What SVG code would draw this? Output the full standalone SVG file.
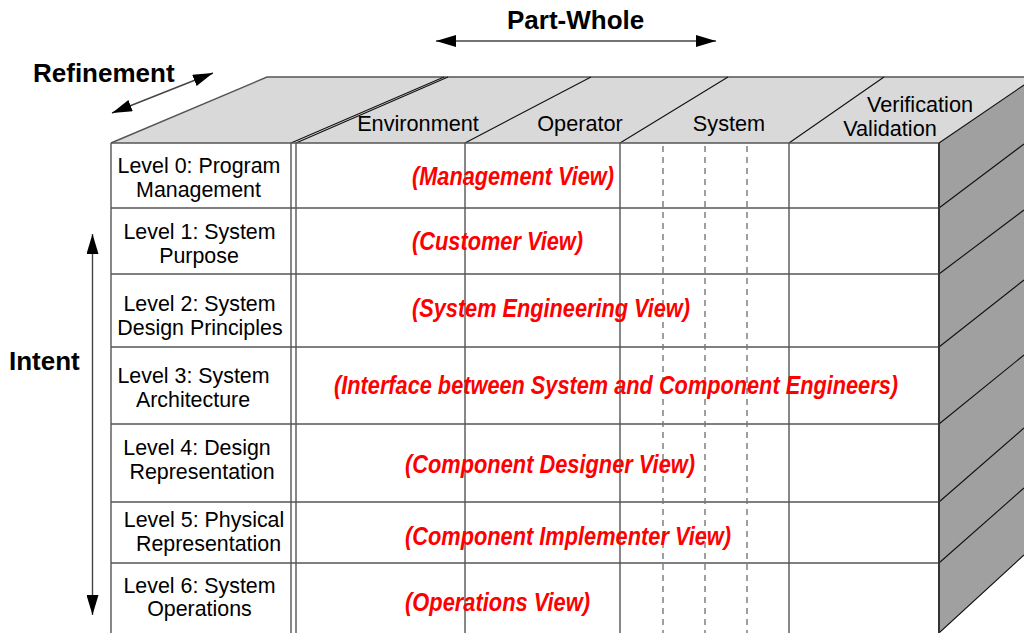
<svg xmlns="http://www.w3.org/2000/svg" width="1024" height="633" viewBox="0 0 1024 633">
<defs>
<marker id="ah" viewBox="0 0 20 12" refX="20" refY="6" markerWidth="20" markerHeight="12" markerUnits="userSpaceOnUse" orient="auto-start-reverse">
<path d="M0,0 L20,6 L0,12 z" fill="#000"/>
</marker>
<style>
.edge{stroke:#555;stroke-width:1.4;fill:none}
.dark{stroke:#333;stroke-width:2;fill:none}
.thin{stroke:#111;stroke-width:1.1;fill:none}
.dash{stroke:#777;stroke-width:1.4;stroke-dasharray:6 5;fill:none}
.lvl{font-family:"Liberation Sans",Arial,sans-serif;font-size:21.4px;fill:#000;text-anchor:middle}
.hdr{font-family:"Liberation Sans",Arial,sans-serif;font-size:21.7px;fill:#000;text-anchor:middle}
.ttl{font-family:"Liberation Sans",Arial,sans-serif;font-size:26px;font-weight:bold;fill:#000}
.view{font-family:"Liberation Sans",Arial,sans-serif;font-size:25px;font-weight:bold;font-style:italic;fill:#ff0000}
.arr{stroke:#444;stroke-width:1.4;fill:none}
</style>
</defs>
<rect width="1024" height="633" fill="#fff"/>

<g id="cube">
<polygon points="111,143 267,77 1024,77 1024,85 939,143" fill="#d9d9d9"/>
<polygon points="939,143 1024,85 1024,555 939,633" fill="#a0a0a0"/>
<path class="edge" d="M111,143 L267,77 L1024,77"/>
<path class="thin" d="M291,143 L444,77 M296,143 L448,77 M465,143 L591,77 M620,143 L728,77 M789,143 L884,77"/>
<path class="thin" d="M939,143 L1024,85 M939,208 L1024,144 M939,274 L1024,210 M939,347 L1024,280 M939,424 L1024,355 M939,502 L1024,428 M939,563 L1024,488 M939,633 L1024,555"/>
<path class="edge" d="M111,143 H939 M111,208 H939 M111,274 H939 M111,347 H939 M111,424 H939 M111,502 H939 M111,563 H939"/>
<path class="edge" d="M111,143 V633 M291,143 V633 M296,143 V633 M465,143 V633 M620,143 V633 M789,143 V633"/>
<path class="dash" d="M663,146 V633 M705,146 V633 M747,146 V633"/>
<path class="dark" d="M939,143 V633"/>
</g>

<g id="headers">
<text class="hdr" x="418" y="131">Environment</text>
<text class="hdr" x="580" y="131">Operator</text>
<text class="hdr" x="729" y="131">System</text>
<text class="hdr" x="920" y="112">Verification</text>
<text class="hdr" x="890" y="136">Validation</text>
</g>

<g id="level0">
<text class="lvl" x="199" y="173">Level 0: Program</text>
<text class="lvl" x="198.5" y="197">Management</text>
<text class="view" x="412" y="185" textLength="202" lengthAdjust="spacingAndGlyphs">(Management View)</text>
</g>
<g id="level1">
<text class="lvl" x="199.5" y="239">Level 1: System</text>
<text class="lvl" x="199" y="263">Purpose</text>
<text class="view" x="412" y="250" textLength="171" lengthAdjust="spacingAndGlyphs">(Customer View)</text>
</g>
<g id="level2">
<text class="lvl" x="199.5" y="311">Level 2: System</text>
<text class="lvl" x="200" y="335">Design Principles</text>
<text class="view" x="412" y="317" textLength="278" lengthAdjust="spacingAndGlyphs">(System Engineering View)</text>
</g>
<g id="level3">
<text class="lvl" x="193.5" y="383">Level 3: System</text>
<text class="lvl" x="193" y="407">Architecture</text>
<text class="view" x="334" y="394" textLength="564" lengthAdjust="spacingAndGlyphs">(Interface between System and Component Engineers)</text>
</g>
<g id="level4">
<text class="lvl" x="197" y="455">Level 4: Design</text>
<text class="lvl" x="202" y="479">Representation</text>
<text class="view" x="405" y="473" textLength="290" lengthAdjust="spacingAndGlyphs">(Component Designer View)</text>
</g>
<g id="level5">
<text class="lvl" x="204" y="527">Level 5: Physical</text>
<text class="lvl" x="208.5" y="551">Representation</text>
<text class="view" x="405" y="545" textLength="326" lengthAdjust="spacingAndGlyphs">(Component Implementer View)</text>
</g>
<g id="level6">
<text class="lvl" x="199.5" y="593">Level 6: System</text>
<text class="lvl" x="199.5" y="616">Operations</text>
<text class="view" x="405" y="611" textLength="185" lengthAdjust="spacingAndGlyphs">(Operations View)</text>
</g>

<g id="axis-labels">
<text class="ttl" x="507" y="29">Part-Whole</text>
<text class="ttl" x="33" y="82">Refinement</text>
<text class="ttl" x="9" y="370">Intent</text>
</g>

<g id="connectors">
<line class="arr" x1="436" y1="41" x2="716" y2="41" marker-start="url(#ah)" marker-end="url(#ah)"/>
<line class="arr" x1="112" y1="113" x2="213" y2="73" marker-start="url(#ah)" marker-end="url(#ah)"/>
<line class="arr" x1="92.5" y1="234" x2="92.5" y2="615" marker-start="url(#ah)" marker-end="url(#ah)"/>
</g>
</svg>
